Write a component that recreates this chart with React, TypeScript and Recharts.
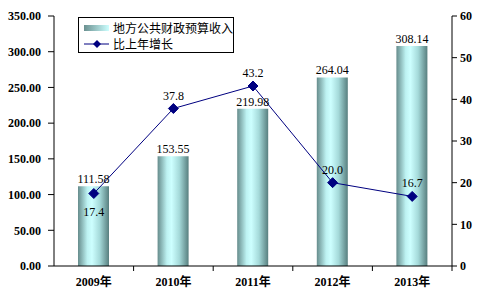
import {
    Bar,
    ComposedChart,
    LabelList,
    Line,
    XAxis,
    YAxis
} from "recharts";

const years = ["2009年", "2010年", "2011年", "2012年", "2013年"]
const revenue = [111.58, 153.55, 219.98, 264.04, 308.14]
const growth = [17.4, 37.8, 43.2, 20.0, 16.7]
const leftTicks = [0, 50, 100, 150, 200, 250, 300, 350]
const rightTicks = [0, 10, 20, 30, 40, 50, 60]

const revenueName = "地方公共财政预算收入"
const growthName = "比上年增长"

const data = years.map((year, i) => ({
    year,
    revenue: revenue[i],
    growth: growth[i],
}))

const serif = "'Liberation Serif', 'Times New Roman', 'Noto Sans CJK SC', serif"
const navy = "#000080"

// tick mark sits between categories, label under the category
function XTick({ x, y, payload }: any) {
    const half = 398 / 5 / 2
    return (
        <g>
            <line x1={x + half} y1={266} x2={x + half} y2={271} stroke="#000" />
            <text x={x} y={y + 12} textAnchor="middle" fontFamily={serif} fontWeight="bold" fontSize={12} fill="#000">
                {payload.value}
            </text>
        </g>
    )
}

function Diamond({ cx, cy }: any) {
    if (cx == null || cy == null) return null
    const r = 5
    return (
        <polygon
            points={`${cx},${cy - r} ${cx + r},${cy} ${cx},${cy + r} ${cx - r},${cy}`}
            fill={navy}
            stroke={navy}
        />
    )
}

function GrowthLabel({ x, y, value, index }: any) {
    const dy = index === 0 ? 22 : -9
    return (
        <text x={x} y={y + dy} textAnchor="middle" fontFamily={serif} fontSize={12} fill="#000">
            {Number(value).toFixed(1)}
        </text>
    )
}

function LegendBox() {
    return (
        <div style={{
            position: "absolute",
            left: 78,
            top: 17,
            border: "1px solid #000",
            background: "#fff",
            width: 156,
            height: 36,
            fontFamily: "'Noto Sans CJK SC', sans-serif",
            fontSize: 12,
            color: "#000",
            lineHeight: "16px",
            padding: "1px 0 0 0",
            boxSizing: "border-box",
            whiteSpace: "nowrap",
        }}>
            <div style={{ display: "flex", alignItems: "center", height: 17 }}>
                <svg width={34} height={16}>
                    <defs>
                        <linearGradient id="legendGrad" x1="0" y1="0" x2="1" y2="0">
                            <stop offset="0%" stopColor="#6a9090" />
                            <stop offset="100%" stopColor="#cdffff" />
                        </linearGradient>
                    </defs>
                    <rect x={5} y={5} width={25} height={6} fill="url(#legendGrad)" />
                </svg>
                <span>{revenueName}</span>
            </div>
            <div style={{ display: "flex", alignItems: "center", height: 16 }}>
                <svg width={34} height={16}>
                    <line x1={5} y1={8} x2={30} y2={8} stroke={navy} />
                    <polygon points="18,4 22,8 18,12 14,8" fill={navy} />
                </svg>
                <span>{growthName}</span>
            </div>
        </div>
    )
}

export default function App() {
    return (
        <div style={{ position: "absolute", left: 0, top: 0, width: 483, height: 298, background: "#fff" }}>
            <ComposedChart
                width={483}
                height={298}
                data={data}
                margin={{ top: 16, right: 0, bottom: 0, left: 0 }}
            >
                <defs>
                    <linearGradient id="barGrad" x1="0" y1="0" x2="1" y2="0">
                        <stop offset="0%" stopColor="#668c8c" />
                        <stop offset="30%" stopColor="#bdf2f2" />
                        <stop offset="45%" stopColor="#cdffff" />
                        <stop offset="70%" stopColor="#a5dada" />
                        <stop offset="100%" stopColor="#587f7f" />
                    </linearGradient>
                </defs>
                <XAxis
                    dataKey="year"
                    height={32}
                    axisLine={{ stroke: "#000" }}
                    tickLine={false}
                    tick={<XTick />}
                    interval={0}
                />
                <YAxis
                    yAxisId="left"
                    width={54}
                    domain={[0, 350]}
                    ticks={leftTicks}
                    tickFormatter={(v: number) => v.toFixed(2)}
                    axisLine={{ stroke: "#000" }}
                    tickLine={{ stroke: "#000" }}
                    tickSize={6}
                    tickMargin={7}
                    tick={{ fontFamily: serif, fontWeight: "bold", fontSize: 12, fill: "#000" }}
                />
                <YAxis
                    yAxisId="right"
                    orientation="right"
                    width={31}
                    domain={[0, 60]}
                    ticks={rightTicks}
                    axisLine={{ stroke: "#000" }}
                    tickLine={{ stroke: "#000" }}
                    tickSize={5}
                    tickMargin={3}
                    tick={{ fontFamily: serif, fontWeight: "bold", fontSize: 12, fill: "#000", textAnchor: "start" }}
                />
                <Bar
                    yAxisId="left"
                    dataKey="revenue"
                    name={revenueName}
                    barSize={31}
                    fill="url(#barGrad)"
                    isAnimationActive={false}
                >
                    <LabelList
                        dataKey="revenue"
                        position="top"
                        offset={3}
                        formatter={(v: any) => Number(v).toFixed(2)}
                        style={{ fontFamily: serif, fontSize: 12, fill: "#000" }}
                    />
                </Bar>
                <Line
                    yAxisId="right"
                    dataKey="growth"
                    name={growthName}
                    stroke={navy}
                    strokeWidth={1}
                    dot={<Diamond />}
                    activeDot={false}
                    isAnimationActive={false}
                >
                    <LabelList dataKey="growth" content={<GrowthLabel />} />
                </Line>
            </ComposedChart>
            <LegendBox />
        </div>
    )
}
